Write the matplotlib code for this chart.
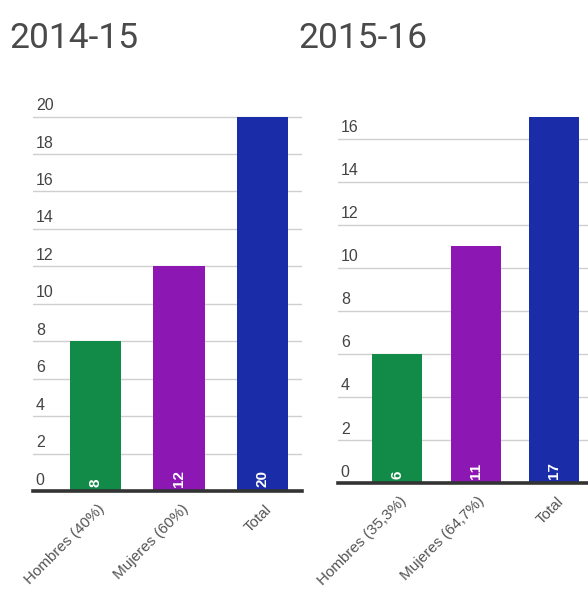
import matplotlib
matplotlib.use("Agg")
import matplotlib.pyplot as plt
import matplotlib.transforms as mtransforms

# Data
titles = ["2014-15", "2015-16"]
labels_1415 = ["Hombres (40%)", "Mujeres (60%)", "Total"]
values_1415 = [8, 12, 20]
labels_1516 = ["Hombres (35,3%)", "Mujeres (64,7%)", "Total"]
values_1516 = [6, 11, 17]
yticks_1415 = [0, 2, 4, 6, 8, 10, 12, 14, 16, 18, 20]
yticks_1516 = [0, 2, 4, 6, 8, 10, 12, 14, 16]

bar_colors = ["#128a48", "#8c17b3", "#1a2ca8"]
text_color = "#444444"
xlab_color = "#555555"
grid_color = "#cfcfcf"
base_color = "#333333"

fig = plt.figure(figsize=(5.88, 5.90), dpi=100)
W, H = 588, 590


def px_axes(left, right, top, bottom):
    return fig.add_axes([left / W, 1 - bottom / H, (right - left) / W, (bottom - top) / H])


def draw_panel(ax, labels, values, yticks, ylim, xlim, width):
    x = list(range(len(values)))
    ax.set_xlim(*xlim)
    ax.set_ylim(*ylim)
    for t in yticks[1:]:
        ax.axhline(t, color=grid_color, lw=1.0, zorder=0)
    ax.bar(x, values, width=width, color=bar_colors, zorder=2)
    ax.axhline(0, color=base_color, lw=2.6, zorder=3, clip_on=False)
    for s in ax.spines.values():
        s.set_visible(False)
    ax.set_yticks([])
    # y labels sit just above their gridlines, on the left
    lab_off = mtransforms.offset_copy(ax.get_yaxis_transform(), fig=fig, x=2, y=2.5, units="points")
    for t in yticks:
        ax.text(0.0, t, str(t), transform=lab_off, ha="left", va="bottom",
                fontsize=11.5, color=text_color, family="Liberation Sans")
    # values inside the bars, at the base
    val_off = mtransforms.offset_copy(ax.transData, fig=fig, x=0, y=3, units="points")
    for xi, v in zip(x, values):
        ax.text(xi, 0, str(v), transform=val_off, rotation=90, ha="center", va="bottom",
                fontsize=11, fontweight="bold", color="white", family="Liberation Sans",
                zorder=4)
    ax.set_xticks(x)
    ax.set_xticklabels(labels, rotation=45, ha="right", va="top", rotation_mode="anchor",
                       fontsize=11, color=xlab_color, family="Liberation Sans")
    ax.tick_params(axis="x", length=0, pad=8)
    shift = mtransforms.ScaledTranslation(1.5 / 72, 0, fig.dpi_scale_trans)
    for lbl in ax.get_xticklabels():
        lbl.set_transform(lbl.get_transform() + shift)


ax1 = px_axes(33, 302, 111, 491)
draw_panel(ax1, labels_1415, values_1415, yticks_1415, (0, 20.3), (-0.747, 2.47), 0.614)

ax2 = px_axes(338, 588, 113, 483)
draw_panel(ax2, labels_1516, values_1516, yticks_1516, (0, 17.2), (-0.752, 2.433), 0.637)

fig.text(9 / W, 1 - 48 / H, titles[0], fontsize=25.5, color="#4a4a4a", family="Roboto",
         ha="left", va="baseline")
fig.text(298 / W, 1 - 48 / H, titles[1], fontsize=25.5, color="#4a4a4a", family="Roboto",
         ha="left", va="baseline")

fig.savefig("out.png", dpi=100, facecolor="white")
